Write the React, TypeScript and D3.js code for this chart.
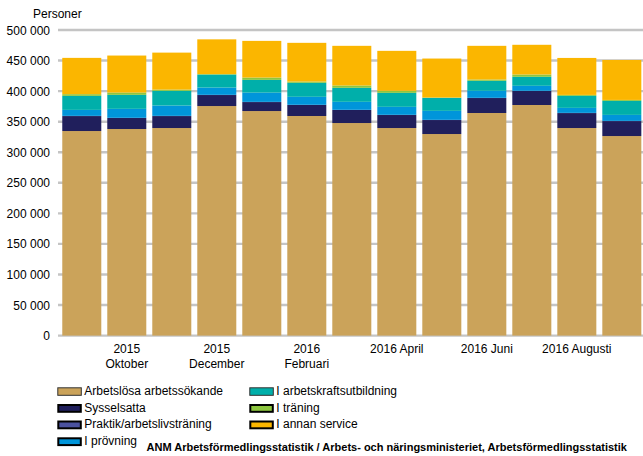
import React from "react";
import * as d3 from "d3";

const months = ["2015-09","2015-10","2015-11","2015-12","2016-01","2016-02","2016-03","2016-04","2016-05","2016-06","2016-07","2016-08","2016-09"];
const tickLabels: string[][] = [[], ["2015","Oktober"], [], ["2015","December"], [], ["2016","Februari"], [], ["2016 April"], [], ["2016 Juni"], [], ["2016 Augusti"], []];

const arbetslosa = [334700, 338000, 339600, 375600, 367400, 359300, 347800, 339600, 329800, 364200, 377300, 339600, 326500];
const sysselsatta = [24500, 18000, 19600, 18000, 14700, 18000, 21300, 21300, 22900, 24500, 22900, 24500, 24500];
const praktik = [300, 300, 300, 300, 300, 300, 300, 300, 300, 300, 300, 300, 300];
const provning = [9800, 14700, 16900, 11900, 15200, 13100, 13100, 13100, 14700, 11500, 8200, 8200, 9800];
const arbetskraft = [22900, 22900, 24000, 21300, 20800, 22900, 22900, 22900, 21300, 16400, 14700, 19600, 22900];
const traning = [2800, 3800, 2100, 800, 3800, 2100, 3800, 3300, 500, 2100, 3800, 1600, 1600];
const annan = [59400, 60500, 60500, 56800, 60000, 63300, 64900, 65400, 63800, 55100, 48600, 60500, 65400];

const seriesNames = ["Arbetslösa arbetssökande", "Sysselsatta", "Praktik/arbetslivsträning", "I prövning", "I arbetskraftsutbildning", "I träning", "I annan service"];
const seriesValues = [arbetslosa, sysselsatta, praktik, provning, arbetskraft, traning, annan];
const colors = ["#CBA35A", "#201F5C", "#4B52A0", "#0095DA", "#00AFAA", "#8DC63F", "#FBB600"];
const yTicks = [0, 50000, 100000, 150000, 200000, 250000, 300000, 350000, 400000, 450000, 500000];

const W = 643, H = 456;
const font = "'Liberation Sans', Arial, sans-serif";

export default function App() {
  const x = d3.scaleBand<number>().domain(d3.range(months.length)).range([59.3, 644.3]).paddingInner(0.133).paddingOuter(0.066);
  const y = d3.scaleLinear().domain([0, 500000]).range([335.6, 30]);
  const rows = months.map((m, i) => {
    const r: any = { m };
    seriesNames.forEach((s, k) => (r[s] = seriesValues[k][i]));
    return r;
  });
  const stacked = d3.stack<any>().keys(seriesNames)(rows);
  const fmt = (v: number) => (v === 0 ? "0" : d3.format(",")(v).replace(/,/g, " "));

  const legendItems = [
    { k: 0, x: 57.3, y: 387.3 }, { k: 1, x: 57.3, y: 404 }, { k: 2, x: 57.3, y: 420.5 }, { k: 3, x: 57.3, y: 437.3 },
    { k: 4, x: 249.3, y: 387.3 }, { k: 5, x: 249.3, y: 404 }, { k: 6, x: 249.3, y: 420.5 },
  ];

  return (
    <svg width={W} height={H} style={{ position: "absolute", left: 0, top: 0, background: "#fff" }} fontFamily={font}>
      <text x={33} y={18} fontSize={12} fill="#000">Personer</text>
      {yTicks.map((t) => (
        <g key={t}>
          <line x1={58} x2={643} y1={y(t)} y2={y(t)} stroke="#C4C4C4" strokeWidth={2.4} />
          <text x={50} y={y(t) + 4.5} fontSize={12} textAnchor="end" fill="#000">{fmt(t)}</text>
        </g>
      ))}
      {stacked.map((s, k) => (
        <g key={s.key} fill={colors[k]}>
          {s.map((d, i) => (
            <rect key={i} x={x(i)} width={x.bandwidth()} y={y(d[1])} height={Math.max(0, y(d[0]) - y(d[1]))} />
          ))}
        </g>
      ))}
      {tickLabels.map((lines, i) =>
        lines.length ? (
          <text key={i} x={(x(i) as number) + x.bandwidth() / 2} y={353} fontSize={12} textAnchor="middle" fill="#000">
            {lines.map((l, j) => (
              <tspan key={j} x={(x(i) as number) + x.bandwidth() / 2} dy={j === 0 ? 0 : 15}>{l}</tspan>
            ))}
          </text>
        ) : null
      )}
      {legendItems.map((it) => {
        const thin = it.k === 0 || it.k === 4;
        return (
          <g key={it.k}>
            <rect x={it.x + (thin ? 0.5 : 1)} y={it.y + (thin ? 0.5 : 1)} width={thin ? 23.5 : 22.5} height={thin ? 7.5 : 6.8}
              fill={colors[it.k]} stroke={thin ? "#333" : "#000"} strokeWidth={thin ? 1 : 2} />
            <text x={it.x + 27} y={it.y + 7.8} fontSize={12} fill="#000">{seriesNames[it.k]}</text>
          </g>
        );
      })}
      <text x={146.5} y={451} fontSize={11} fontWeight="bold" fill="#000">ANM Arbetsförmedlingsstatistik / Arbets- och näringsministeriet, Arbetsförmedlingsstatistik</text>
    </svg>
  );
}
